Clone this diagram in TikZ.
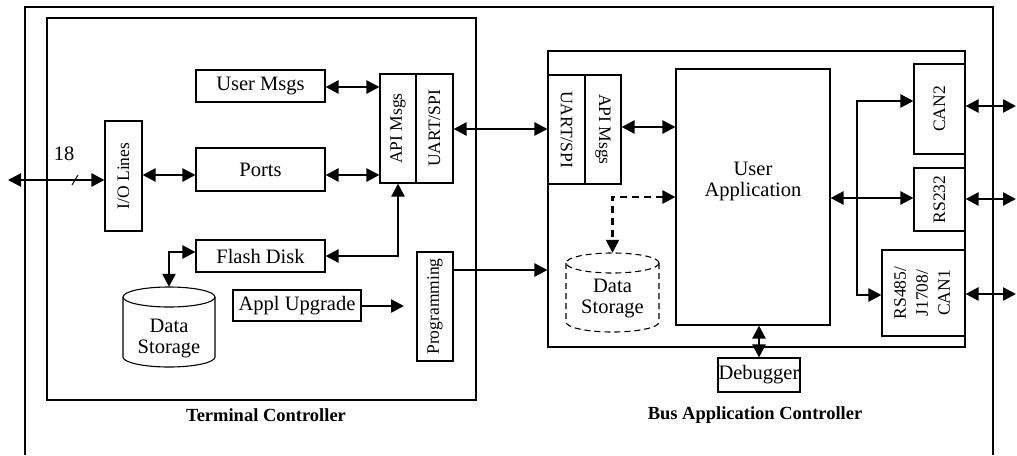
\documentclass[tikz,border=0pt]{standalone}
\usepackage{fontspec}
\usepackage{graphicx}
\setmainfont{Liberation Serif}
\usetikzlibrary{arrows.meta}
\newcommand\myhfont{\fontsize{20.5}{21}\selectfont}
\newcommand\myvfont{\fontsize{17.5}{22}\selectfont}
\newcommand\mycapfont{\fontsize{18.5}{20}\selectfont\bfseries}
\begin{document}
\begin{tikzpicture}[x=1pt,y=-1pt,
  frame/.style={draw, line width=1.1pt},
  box/.style={draw, line width=1.1pt, inner sep=0pt, font=\myhfont, align=center},
  txt/.style={inner sep=0pt, font=\myhfont, align=center},
  captxt/.style={inner sep=0pt, font=\mycapfont},
  dbl/.style={line width=2.4pt, {Triangle[length=13pt,width=13pt]}-{Triangle[length=13pt,width=13pt]}},
  sgl/.style={line width=2.4pt, -{Triangle[length=13pt,width=13pt]}},
  plain/.style={line width=2.4pt}]
\useasboundingbox (0,0) rectangle (1017,455);

% outer frame
\draw[frame] (25,455) -- (25,7) -- (993,7) -- (993,455);

% Terminal Controller
\node[box, minimum width=429pt, minimum height=382pt] (tc) at (261.5,209) {};
\node[captxt] (tccap) at (266,415) {Terminal Controller};

\node[box, minimum width=129pt, minimum height=32pt] (usermsgs) at (260.5,86) {User Msgs};
\node[box, minimum width=129pt, minimum height=43pt] (ports) at (260.5,169.5) {Ports};
\node[box, minimum width=129pt, minimum height=32pt] (flash) at (260.5,256) {Flash Disk};
\node[box, minimum width=128pt, minimum height=31pt] (appl) at (297,305.5) {Appl Upgrade};
\node[box, minimum width=37pt, minimum height=110pt] (io) at (123.5,176) {\myvfont\rotatebox{90}{I/O Lines}};
\node[box, minimum width=36pt, minimum height=109pt] (tcapi) at (398,128.5) {\myvfont\rotatebox{90}{API Msgs}};
\node[box, minimum width=37pt, minimum height=109pt] (tcuart) at (434.5,128.5) {\myvfont\rotatebox{90}{UART/SPI}};
\node[box, minimum width=36pt, minimum height=109pt] (prog) at (435,306.5) {\myvfont\rotatebox{90}{Programming}};

% Data storage cylinder (terminal)
\node[inner sep=0pt, minimum width=92pt, minimum height=80pt] (ds1) at (169,327) {};
\draw[line width=1.1pt] (123,297) -- (123,357) arc[start angle=180, end angle=360, x radius=46pt, y radius=10pt] -- (215,297);
\draw[line width=1.1pt] (169,297) ellipse [x radius=46pt, y radius=10pt];
\node[txt] (ds1txt) at (169,338) {Data\\Storage};

% Bus Application Controller
\node[box, minimum width=417pt, minimum height=296pt] (bac) at (756.5,199) {};
\node[captxt] (baccap) at (755,415) {Bus Application Controller};

\node[box, minimum width=37pt, minimum height=109pt] (bacuart) at (566.5,129.5) {\myvfont\rotatebox{-90}{UART/SPI}};
\node[box, minimum width=36pt, minimum height=109pt] (bacapi) at (603,129.5) {\myvfont\rotatebox{-90}{API Msgs}};
\node[box, minimum width=154pt, minimum height=256pt] (userapp) at (753,197) {};
\node[txt] (userapptxt) at (753,181) {User\\Application};
\node[box, minimum width=82pt, minimum height=34pt] (debugger) at (759,375) {Debugger};
\node[box, minimum width=51pt, minimum height=90pt] (can2) at (939.5,109) {\myvfont\rotatebox{90}{CAN2}};
\node[box, minimum width=51pt, minimum height=63pt] (rs232) at (939.5,199.5) {\myvfont\rotatebox{90}{RS232}};
\node[box, minimum width=83pt, minimum height=86pt] (rs485) at (923.5,293) {\myvfont\rotatebox{90}{\begin{tabular}{@{}c@{}}RS485/\\J1708/\\CAN1\end{tabular}}};

% Data storage cylinder (bus, dashed)
\node[inner sep=0pt, minimum width=93pt, minimum height=79pt] (ds2) at (612.5,292.5) {};
\draw[line width=1.1pt, dash pattern=on 6pt off 4pt] (566,263) -- (566,322) arc[start angle=180, end angle=360, x radius=46.5pt, y radius=10pt] -- (659,263);
\draw[line width=1.1pt, dash pattern=on 6pt off 4pt] (612.5,263) ellipse [x radius=46.5pt, y radius=10pt];
\node[txt] (ds2txt) at (612.5,298) {Data\\Storage};

% ---- connectors: terminal side
\coordinate (ext18) at (8,180);
\draw[dbl] (ext18) -- (ext18 -| io.west);
\draw[line width=1pt] (72,185) -- (78,175);
\node[txt] (lbl18) at (64,154) {18};
\draw[dbl] (io.east |- 0,175) -- (ports.west |- 0,175);
\draw[dbl] (ports.east |- 0,175) -- (tcapi.west |- 0,175);
\draw[dbl] (usermsgs.east |- 0,87) -- (tcapi.west |- 0,87);
\draw[dbl] (flash.east) -| (tcapi.south);
\draw[dbl] (flash.west |- 0,252) -| (ds1.north);
\coordinate (applend) at (404,306);
\draw[sgl] (appl.east |- applend) -- (applend);
\draw[sgl] (prog.east |- 0,270) -- (bac.west |- 0,270);
\draw[dbl] (tcuart.east |- 0,129) -- (bacuart.west |- 0,129);

% ---- connectors: bus side
\draw[dbl] (bacapi.east |- 0,127) -- (userapp.west |- 0,127);
\draw[dbl, dash pattern=on 7pt off 5pt] (userapp.west) -| (ds2.north);
\draw[dbl] (debugger.north) -- (debugger.north |- userapp.south);
\draw[dbl] (userapp.east |- 0,198) -- (rs232.west |- 0,198);
\coordinate (jmid) at (857,198);
\coordinate (jtop) at (857,101);
\coordinate (jbot) at (857,295);
\draw[sgl] (jmid) -- (jtop) -- (jtop -| can2.west);
\draw[sgl] (jmid) -- (jbot) -- (jbot -| rs485.west);

\coordinate (extc2) at (1016,106);
\coordinate (extrs232) at (1016,199);
\coordinate (extrs485) at (1016,294);
\draw[dbl] (can2.east |- extc2) -- (extc2);
\draw[dbl] (rs232.east |- extrs232) -- (extrs232);
\draw[dbl] (rs485.east |- extrs485) -- (extrs485);
\end{tikzpicture}
\end{document}
